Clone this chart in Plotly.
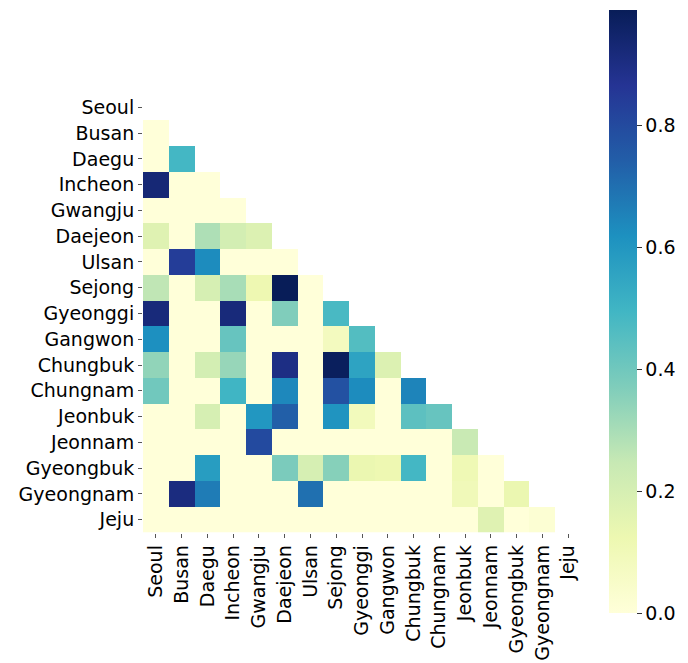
import plotly.graph_objects as go

regions = ["Seoul", "Busan", "Daegu", "Incheon", "Gwangju", "Daejeon", "Ulsan",
           "Sejong", "Gyeonggi", "Gangwon", "Chungbuk", "Chungnam", "Jeonbuk",
           "Jeonnam", "Gyeongbuk", "Gyeongnam", "Jeju"]

# Lower-triangle values: row i holds the correlations with regions 0..i-1
seoul = []
busan = [0.0]
daegu = [0.0, 0.49]
incheon = [0.93, 0.0, 0.0]
gwangju = [0.0, 0.0, 0.0, 0.0]
daejeon = [0.17, 0.0, 0.29, 0.21, 0.18]
ulsan = [0.0, 0.84, 0.63, 0.0, 0.0, 0.0]
sejong = [0.26, 0.0, 0.20, 0.30, 0.12, 0.99, 0.0]
gyeonggi = [0.92, 0.0, 0.0, 0.92, 0.0, 0.37, 0.0, 0.48]
gangwon = [0.62, 0.0, 0.0, 0.42, 0.0, 0.0, 0.0, 0.08, 0.46]
chungbuk = [0.34, 0.0, 0.21, 0.33, 0.0, 0.90, 0.0, 0.98, 0.56, 0.18]
chungnam = [0.40, 0.0, 0.0, 0.50, 0.0, 0.64, 0.0, 0.78, 0.63, 0.0, 0.65]
jeonbuk = [0.0, 0.0, 0.20, 0.0, 0.60, 0.74, 0.0, 0.61, 0.09, 0.0, 0.44, 0.42]
jeonnam = [0.0, 0.0, 0.0, 0.0, 0.80, 0.0, 0.0, 0.0, 0.0, 0.0, 0.0, 0.0, 0.24]
gyeongbuk = [0.0, 0.0, 0.58, 0.0, 0.0, 0.38, 0.20, 0.36, 0.13, 0.12, 0.49, 0.0, 0.11, 0.0]
gyeongnam = [0.0, 0.91, 0.67, 0.0, 0.0, 0.0, 0.70, 0.0, 0.0, 0.0, 0.0, 0.0, 0.10, 0.0, 0.13]
jeju = [0.0, 0.0, 0.0, 0.0, 0.0, 0.0, 0.0, 0.0, 0.0, 0.0, 0.0, 0.0, 0.0, 0.17, 0.0, 0.02]

rows = [seoul, busan, daegu, incheon, gwangju, daejeon, ulsan, sejong, gyeonggi,
        gangwon, chungbuk, chungnam, jeonbuk, jeonnam, gyeongbuk, gyeongnam, jeju]

n = len(regions)
z = [r + [None] * (n - len(r)) for r in rows]
zmax = max(v for r in rows for v in r)

FONT = "DejaVu Sans"
FS = 19

fig = go.Figure(go.Heatmap(
    z=z,
    x=list(range(n)),
    y=list(range(n)),
    colorscale="YlGnBu",
    zmin=0,
    zmax=zmax,
    hoverongaps=False,
    colorbar=dict(
        thickness=28,
        lenmode="pixels",
        len=603,
        x=1.063,
        xanchor="left",
        y=0.5045,
        yanchor="middle",
        xpad=0,
        ypad=0,
        outlinewidth=0,
        ticks="outside",
        ticklen=5,
        tickcolor="#333333",
        tickvals=[0, 0.2, 0.4, 0.6, 0.8],
        tickformat=".1f",
        tickfont=dict(family=FONT, size=FS, color="black"),
    ),
))

fig.update_xaxes(
    range=[-0.5, n - 0.5],
    tickmode="array",
    tickvals=list(range(n)),
    ticktext=regions,
    tickangle=-90,
    ticks="outside",
    ticklen=4,
    tickcolor="#555555",
    showgrid=False,
    zeroline=False,
    showline=False,
    automargin=False,
    tickfont=dict(family=FONT, size=FS, color="black"),
    constrain="domain",
)
fig.update_yaxes(
    range=[n - 0.5, -0.5],
    tickmode="array",
    tickvals=list(range(n)),
    ticktext=regions,
    ticks="outside",
    ticklen=4,
    tickcolor="#555555",
    showgrid=False,
    zeroline=False,
    showline=False,
    automargin=False,
    tickfont=dict(family=FONT, size=FS, color="black"),
    scaleanchor="x",
    scaleratio=1,
    constrain="domain",
)

fig.update_layout(
    width=688,
    height=663,
    margin=dict(l=143, r=102, t=90, b=130),
    paper_bgcolor="white",
    plot_bgcolor="white",
    font=dict(family=FONT, size=FS, color="black"),
)

fig.write_html("out.html")
